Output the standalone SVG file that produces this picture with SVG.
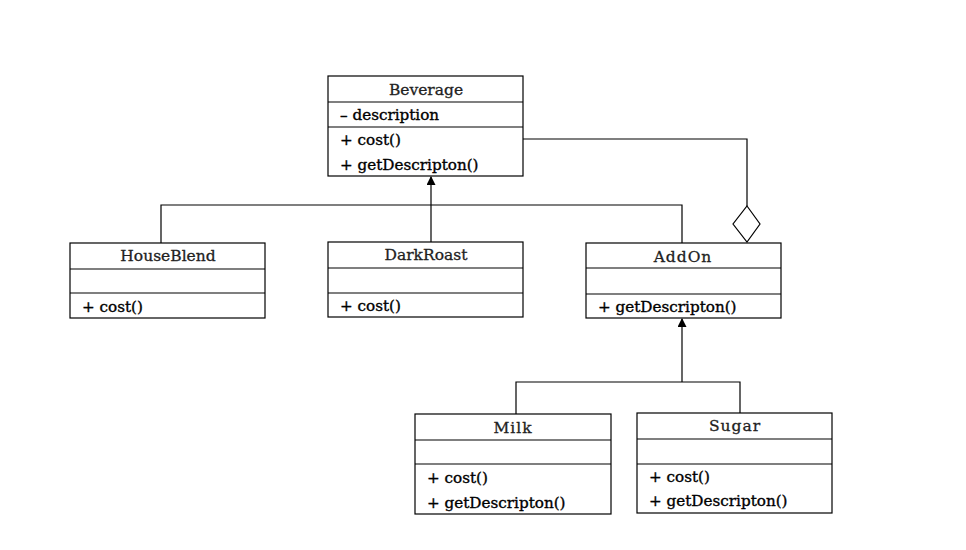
<svg xmlns="http://www.w3.org/2000/svg" width="966" height="550" viewBox="0 0 966 550">
  <style>
    .box { fill: #fff; stroke: #000; stroke-width: 1.2; }
    .sep { stroke: #000; stroke-width: 1.2; }
    .title { font-family: "DejaVu Serif", "Liberation Serif", serif; font-size: 15.5px; text-anchor: middle; fill: #222; stroke: #222; stroke-width: 0.3; }
    .mem { font-family: "DejaVu Serif", "Liberation Serif", serif; font-size: 15.2px; fill: #000; stroke: #000; stroke-width: 0.35; }
    .edge { fill: none; stroke: #000; stroke-width: 1.2; }
  </style>
  <defs>
    <marker id="arrow" viewBox="0 0 10 10" refX="9" refY="5" markerWidth="10" markerHeight="9" markerUnits="userSpaceOnUse" orient="auto">
      <path d="M0,0 L10,5 L0,10 z" fill="#000"/>
    </marker>
  </defs>
  <rect width="966" height="550" fill="#fff"/>

  <g id="connectors">
    <!-- inheritance: HouseBlend, DarkRoast, AddOn to Beverage -->
    <polyline class="edge" points="161,243 161,205 682,205 682,243"/>
    <line class="edge" x1="431" y1="242" x2="431" y2="177" marker-end="url(#arrow)"/>
    <!-- aggregation: AddOn wraps a Beverage -->
    <polyline class="edge" points="523,139 747,139 747,206"/>
    <polygon points="747,206 760,224 747,242 733,224" fill="#fff" stroke="#000" stroke-width="1.2"/>
    <!-- inheritance: Milk, Sugar to AddOn -->
    <polyline class="edge" points="516,414 516,382 740,382 740,413"/>
    <line class="edge" x1="682" y1="382" x2="682" y2="319" marker-end="url(#arrow)"/>
  </g>

  <g id="beverage">
    <rect class="box" x="328" y="76" width="195" height="100"/>
    <line class="sep" x1="328" y1="102" x2="523" y2="102"/>
    <line class="sep" x1="328" y1="127" x2="523" y2="127"/>
    <text class="title" x="426" y="95">Beverage</text>
    <text class="mem" x="340" y="120">– description</text>
    <text class="mem" x="340" y="145">+ cost()</text>
    <text class="mem" x="340" y="170">+ getDescripton()</text>
  </g>

  <g id="houseblend">
    <rect class="box" x="70" y="243" width="195" height="75"/>
    <line class="sep" x1="70" y1="269" x2="265" y2="269"/>
    <line class="sep" x1="70" y1="293" x2="265" y2="293"/>
    <text class="title" x="168" y="261">HouseBlend</text>
    <text class="mem" x="82" y="312">+ cost()</text>
  </g>

  <g id="darkroast">
    <rect class="box" x="328" y="242" width="195" height="75"/>
    <line class="sep" x1="328" y1="268" x2="523" y2="268"/>
    <line class="sep" x1="328" y1="293" x2="523" y2="293"/>
    <text class="title" x="426" y="260">DarkRoast</text>
    <text class="mem" x="340" y="311">+ cost()</text>
  </g>

  <g id="addon">
    <rect class="box" x="586" y="243" width="195" height="75"/>
    <line class="sep" x1="586" y1="268" x2="781" y2="268"/>
    <line class="sep" x1="586" y1="294" x2="781" y2="294"/>
    <text class="title" x="683" y="262" letter-spacing="1">AddOn</text>
    <text class="mem" x="598" y="312">+ getDescripton()</text>
  </g>

  <g id="milk">
    <rect class="box" x="415" y="414" width="196" height="100"/>
    <line class="sep" x1="415" y1="440" x2="611" y2="440"/>
    <line class="sep" x1="415" y1="464" x2="611" y2="464"/>
    <text class="title" x="513" y="433" letter-spacing="1">Milk</text>
    <text class="mem" x="427" y="483">+ cost()</text>
    <text class="mem" x="427" y="508">+ getDescripton()</text>
  </g>

  <g id="sugar">
    <rect class="box" x="637" y="413" width="195" height="100"/>
    <line class="sep" x1="637" y1="439" x2="832" y2="439"/>
    <line class="sep" x1="637" y1="464" x2="832" y2="464"/>
    <text class="title" x="735" y="431" letter-spacing="1">Sugar</text>
    <text class="mem" x="649" y="482">+ cost()</text>
    <text class="mem" x="649" y="506">+ getDescripton()</text>
  </g>
</svg>
